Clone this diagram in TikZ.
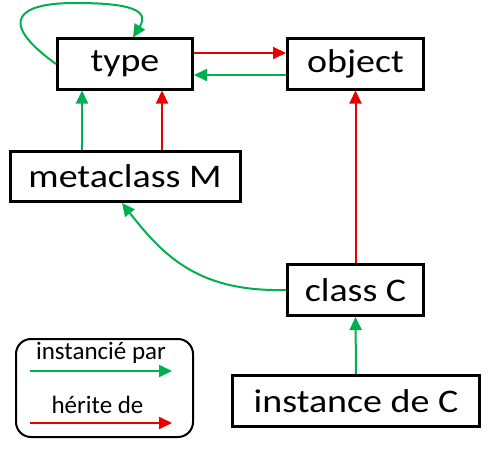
\documentclass[tikz,border=0pt]{standalone}
\usepackage{fontspec}
\setmainfont{Carlito}
\newfontfamily\boxfont{Carlito}[FakeStretch=1.15]
\usepackage{tikz}
\usetikzlibrary{arrows.meta}
\definecolor{instgreen}{RGB}{0,176,80}
\definecolor{heritred}{RGB}{230,0,0}

\begin{document}
\begin{tikzpicture}[x=1pt,y=-1pt,
  box/.style={draw, line width=3pt, inner sep=0pt,
    font=\boxfont\fontsize{33}{33}\selectfont},
  inst/.style={instgreen, line width=2pt, -{Triangle[length=13pt,width=12pt]}},
  herit/.style={heritred, line width=2pt, -{Triangle[length=13pt,width=12pt]}},
  legendtext/.style={font=\fontsize{25}{25}\selectfont, inner sep=0pt}]

\useasboundingbox (0,0) rectangle (489,452);

\node[box, minimum width=135pt, minimum height=50pt] (type) at (125,64) {type};
\node[box, minimum width=136pt, minimum height=50pt] (object) at (355.5,64) {object};
\node[box, minimum width=230pt, minimum height=50pt] (metaclass) at (125,176.5) {metaclass M};
\node[box, minimum width=136pt, minimum height=51pt] (classC) at (355.5,290) {class C};
\node[box, minimum width=247pt, minimum height=51pt] (instance) at (356,401) {instance de C};

\coordinate (looptop) at (75,3);
\draw[inst] (type.west) .. controls (-5,20) and (20,3) .. (looptop)
  .. controls (130,3) and (150,10) .. ([xshift=8pt]type.north);
\draw[herit] ([yshift=11pt]type.east) -- ([yshift=11pt]object.west);
\draw[inst] ([yshift=-11pt]object.west) -- ([yshift=-11pt]type.east);
\draw[inst] ([xshift=-43pt]metaclass.north) -- ([xshift=-43pt]type.south);
\draw[herit] ([xshift=37pt]metaclass.north) -- ([xshift=37pt]type.south);
\draw[inst] (classC.west) .. controls (200,292) and (165,258) .. ([xshift=-3pt]metaclass.south);
\draw[herit] (classC.north) -- (object.south);
\draw[inst] (instance.north) -- (classC.south);

\node[draw, line width=2pt, rounded corners=15pt, minimum width=177pt,
  minimum height=98pt] (legend) at (104.5,388) {};
\node[legendtext] (instlbl) at (101,353) {instancié par};
\node[legendtext] (heritlbl) at (97.5,405) {hérite de};
\coordinate (inststart) at (30,371);
\coordinate (instend) at (172,371);
\coordinate (heritstart) at (30,423);
\coordinate (heritend) at (172,423);
\draw[inst] (inststart) -- (instend);
\draw[herit] (heritstart) -- (heritend);
\end{tikzpicture}
\end{document}
